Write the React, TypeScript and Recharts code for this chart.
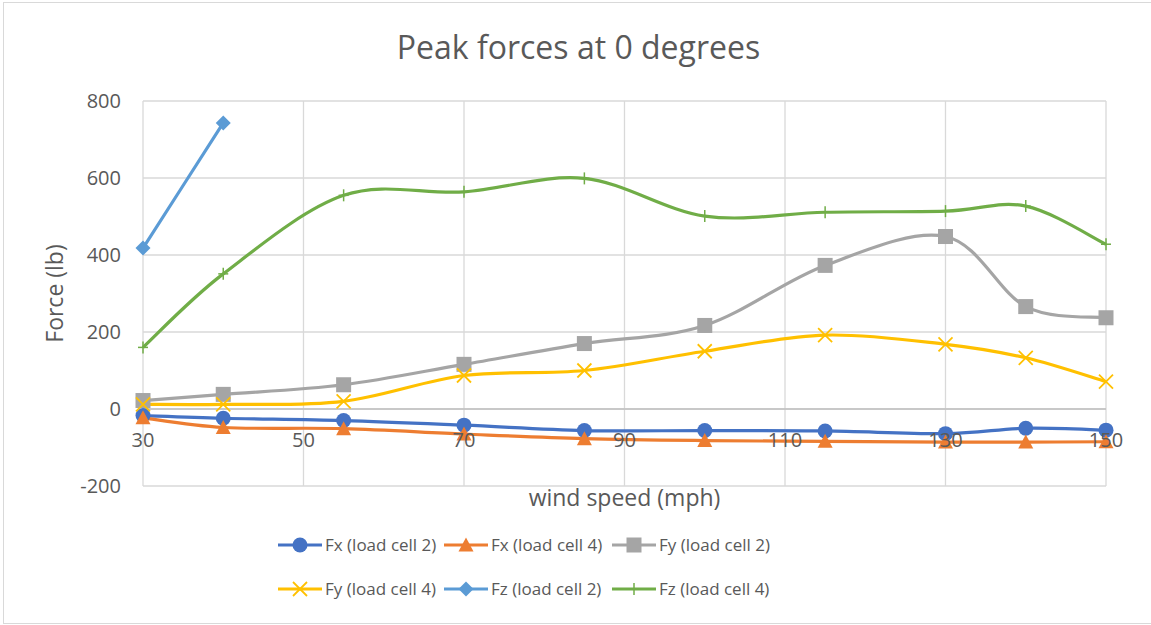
import React from "react";
import { LineChart, Line, XAxis, YAxis, CartesianGrid, ReferenceLine } from "recharts";

const windSpeed = [30, 40, 55, 70, 85, 100, 115, 130, 140, 150];
const fxCell2 = [-17, -24, -30, -42, -56, -56, -57, -64, -50, -55];
const fxCell4 = [-23, -48, -51, -65, -77, -82, -84, -86, -86, -85];
const fyCell2 = [22, 38, 63, 116, 170, 217, 373, 448, 266, 237];
const fyCell4 = [12, 12, 20, 87, 100, 150, 192, 168, 133, 71];
const fzCell2: (number | null)[] = [418, 743, null, null, null, null, null, null, null, null];
const fzCell4 = [160, 351, 555, 564, 599, 501, 511, 514, 527, 428];

const xTicks = [30, 50, 70, 90, 110, 130, 150];
const yTicks = [-200, 0, 200, 400, 600, 800];

const series = [
  { key: "fx2", name: "Fx (load cell 2)", color: "#4472c4", shape: "circle", values: fxCell2 },
  { key: "fx4", name: "Fx (load cell 4)", color: "#ed7d31", shape: "triangle", values: fxCell4 },
  { key: "fy2", name: "Fy (load cell 2)", color: "#a5a5a5", shape: "square", values: fyCell2 },
  { key: "fy4", name: "Fy (load cell 4)", color: "#ffc000", shape: "x", values: fyCell4 },
  { key: "fz2", name: "Fz (load cell 2)", color: "#5b9bd5", shape: "diamond", values: fzCell2 },
  { key: "fz4", name: "Fz (load cell 4)", color: "#70ad47", shape: "plus", values: fzCell4 },
];

const data = windSpeed.map((w, i) => {
  const row: Record<string, number | null> = { speed: w };
  series.forEach((s) => (row[s.key] = s.values[i]));
  return row;
});

const FONT = "'Open Sans', sans-serif";
const TEXT = "#595959";

// excel-style smoothed line: bezier through points, catmull-rom control points
function excelSmooth(context: any) {
  let pts: number[][] = [];
  return {
    areaStart() {},
    areaEnd() {},
    lineStart() {
      pts = [];
    },
    point(x: number, y: number) {
      pts.push([+x, +y]);
    },
    lineEnd() {
      if (!pts.length) return;
      context.moveTo(pts[0][0], pts[0][1]);
      for (let i = 0; i < pts.length - 1; i++) {
        const p0 = pts[i - 1] || pts[i];
        const p1 = pts[i];
        const p2 = pts[i + 1];
        const p3 = pts[i + 2] || p2;
        context.bezierCurveTo(
          p1[0] + (p2[0] - p0[0]) / 6,
          p1[1] + (p2[1] - p0[1]) / 6,
          p2[0] - (p3[0] - p1[0]) / 6,
          p2[1] - (p3[1] - p1[1]) / 6,
          p2[0],
          p2[1]
        );
      }
    },
  };
}

function Marker({ shape, color, cx, cy }: { shape: string; color: string; cx: number; cy: number }) {
  switch (shape) {
    case "circle":
      return <circle cx={cx} cy={cy} r={7.5} fill={color} />;
    case "triangle":
      return <polygon points={`${cx},${cy - 7.5} ${cx + 7.5},${cy + 6.5} ${cx - 7.5},${cy + 6.5}`} fill={color} />;
    case "square":
      return <rect x={cx - 7.5} y={cy - 7.5} width={15} height={15} fill={color} />;
    case "diamond":
      return <polygon points={`${cx},${cy - 7.5} ${cx + 7.5},${cy} ${cx},${cy + 7.5} ${cx - 7.5},${cy}`} fill={color} />;
    case "x":
      return (
        <g stroke={color} strokeWidth={1.8}>
          <line x1={cx - 7} y1={cy - 7} x2={cx + 7} y2={cy + 7} />
          <line x1={cx - 7} y1={cy + 7} x2={cx + 7} y2={cy - 7} />
        </g>
      );
    default:
      return (
        <g stroke={color} strokeWidth={1.5}>
          <line x1={cx - 5} y1={cy} x2={cx + 5} y2={cy} />
          <line x1={cx} y1={cy - 6} x2={cx} y2={cy + 6} />
        </g>
      );
  }
}

const makeDot = (shape: string, color: string) => (props: any) => {
  const { cx, cy, value, index } = props;
  if (value == null || cx == null || cy == null) return <g key={index} />;
  return (
    <g key={index}>
      <Marker shape={shape} color={color} cx={cx} cy={cy} />
    </g>
  );
};

// x tick labels sit just under the zero line, like excel's crossing axis
const XTick = (props: any) => {
  const { x, y, payload } = props;
  return (
    <text x={x} y={y - 39} textAnchor="middle" fill={TEXT} fontSize={20} fontFamily={FONT}>
      {payload.value}
    </text>
  );
};

const legendX = [278, 444, 612];

function LegendItem({ s }: { s: (typeof series)[number] }) {
  return (
    <div style={{ display: "flex", alignItems: "center" }}>
      <svg width={44} height={16}>
        <line x1={0} y1={8} x2={44} y2={8} stroke={s.color} strokeWidth={3} />
        <Marker shape={s.shape} color={s.color} cx={22} cy={8} />
      </svg>
      <span style={{ marginLeft: 3, fontSize: 17, color: TEXT, fontFamily: FONT, whiteSpace: "nowrap" }}>{s.name}</span>
    </div>
  );
}

export default function App() {
  return (
    <div style={{ position: "absolute", left: 0, top: 0, width: 1151, height: 625, background: "#fff" }}>
      <div
        style={{
          position: "absolute",
          left: 3,
          top: 2,
          width: 1160,
          height: 620,
          border: "1px solid #d9d9d9",
        }}
      />
      <div
        style={{
          position: "absolute",
          left: 0,
          top: 26,
          width: 1157,
          textAlign: "center",
          fontSize: 32,
          lineHeight: "42px",
          color: TEXT,
          fontFamily: FONT,
        }}
      >
        Peak forces at 0 degrees
      </div>
      <div style={{ position: "absolute", left: 0, top: 0 }}>
        <LineChart width={1151} height={625} data={data} margin={{ top: 101, right: 45, bottom: 0, left: 0 }}>
          <CartesianGrid stroke="#d9d9d9" strokeWidth={1.3} />
          <XAxis
            dataKey="speed"
            type="number"
            domain={[30, 150]}
            ticks={xTicks}
            height={139}
            axisLine={false}
            tickLine={false}
            tickSize={0}
            tickMargin={0}
            tick={XTick}
            label={{ value: "wind speed (mph)", position: "insideTop", offset: 4, fill: TEXT, fontSize: 23, fontFamily: FONT }}
          />
          <YAxis
            type="number"
            domain={[-200, 800]}
            ticks={yTicks}
            width={143}
            axisLine={false}
            tickLine={false}
            tickSize={0}
            tickMargin={22}
            tick={{ fill: TEXT, fontSize: 20, fontFamily: FONT }}
            label={{
              value: "Force (lb)",
              angle: -90,
              position: "insideLeft",
              offset: 55,
              fill: TEXT,
              fontSize: 23,
              fontFamily: FONT,
              style: { textAnchor: "middle" },
            }}
          />
          <ReferenceLine y={0} stroke="#bfbfbf" strokeWidth={1.5} />
          {series.map((s) => (
            <Line
              key={s.key}
              dataKey={s.key}
              name={s.name}
              type={excelSmooth as any}
              stroke={s.color}
              strokeWidth={3.2}
              dot={makeDot(s.shape, s.color)}
              activeDot={false}
              isAnimationActive={false}
            />
          ))}
        </LineChart>
      </div>
      {[0, 1].map((row) => (
        <React.Fragment key={row}>
          {legendX.map((lx, col) => (
            <div key={col} style={{ position: "absolute", left: lx, top: 533 + row * 44 }}>
              <LegendItem s={series[row * 3 + col]} />
            </div>
          ))}
        </React.Fragment>
      ))}
    </div>
  );
}
